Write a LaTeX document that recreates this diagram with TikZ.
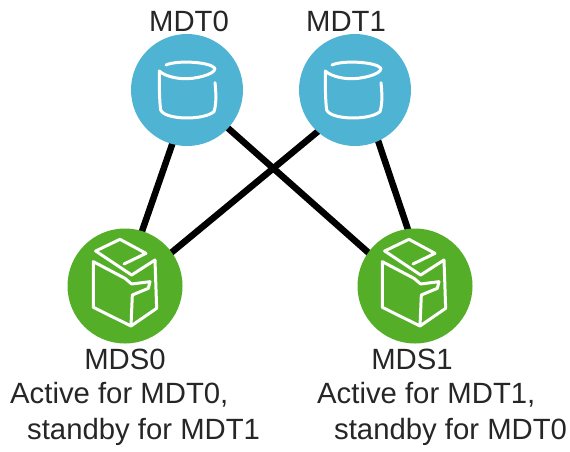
\documentclass[tikz,border=0pt]{standalone}
\usepackage{fontspec}
\usetikzlibrary{backgrounds}
\setmainfont{Liberation Sans}
\definecolor{mdtblue}{HTML}{4FB3D3}
\definecolor{mdsgreen}{HTML}{55AE28}
\tikzset{
 mdt/.style={circle,fill=mdtblue,draw=none,minimum size=112pt,inner sep=0pt},
 mds/.style={circle,fill=mdsgreen,draw=none,minimum size=115pt,inner sep=0pt},
 link/.style={line width=6.5pt,black},
 lab/.style={font=\fontsize{29.3}{36.5}\selectfont,text=black!85,inner sep=0pt,align=left},
 ico/.style={white,line width=3pt,line join=round,line cap=round}
}
\newcommand{\dbicon}[2]{\begin{scope}[shift={(#1,#2)},x=0.3333pt,y=-0.3333pt]
 \draw[ico] (138,105) .. controls (170,90) and (270,95) .. (285,115) .. controls (285,135) and (220,148) .. (190,146) .. controls (160,145) and (130,135) .. (118,123) .. controls (118,170) and (118,210) .. (122,240) .. controls (135,270) and (250,272) .. (282,245) .. controls (290,220) and (288,185) .. (285,158);
 \end{scope}}
\newcommand{\boxicon}[2]{\begin{scope}[shift={(#1,#2)},x=0.3333pt,y=-0.3333pt]
 \draw[ico] (107,93) -- (180,58) -- (258,100) -- (192,132);
 \draw[ico] (107,93) -- (215,165) -- (285,120) -- (290,265) -- (213,318) -- (100,262) -- (100,125) -- (195,175) -- (215,192) -- (270,185) -- (265,205) -- (217,225) -- (213,318);
 \end{scope}}
\begin{document}
\begin{tikzpicture}[x=1pt,y=-1pt]
\useasboundingbox (0,0) rectangle (570,451);
\node[mdt] (mdt0) at (187,90) {};
\node[mdt] (mdt1) at (355,90) {};
\node[mds] (mds0) at (125,286) {};
\node[mds] (mds1) at (415,286) {};
\begin{scope}[on background layer]
\draw[link] ([xshift=4pt]mdt0.center) -- ([xshift=-2pt]mds0.center);
\draw[link] ([xshift=-2pt]mdt0.center) -- ([xshift=-9pt]mds1.center);
\draw[link] ([xshift=13pt]mdt1.center) -- ([xshift=6pt]mds0.center);
\draw[link] ([xshift=6pt]mdt1.center) -- ([xshift=12pt]mds1.center);
\end{scope}
\dbicon{120}{30}
\dbicon{286}{30}
\boxicon{60}{220}
\boxicon{349}{220}
\node[lab,anchor=center] (t0) at (189,21) {MDT0};
\node[lab,anchor=center] (t1) at (346,21) {MDT1};
\node[lab,anchor=center] (t2) at (125,359) {MDS0};
\node[lab,anchor=center] (t3) at (412,359) {MDS1};
\node[lab,anchor=north west] (a0) at (10,382) {Active for MDT0,\\\hspace*{17pt}standby for MDT1};
\node[lab,anchor=north west] (a1) at (317,382) {Active for MDT1,\\\hspace*{17pt}standby for MDT0};
\end{tikzpicture}
\end{document}
